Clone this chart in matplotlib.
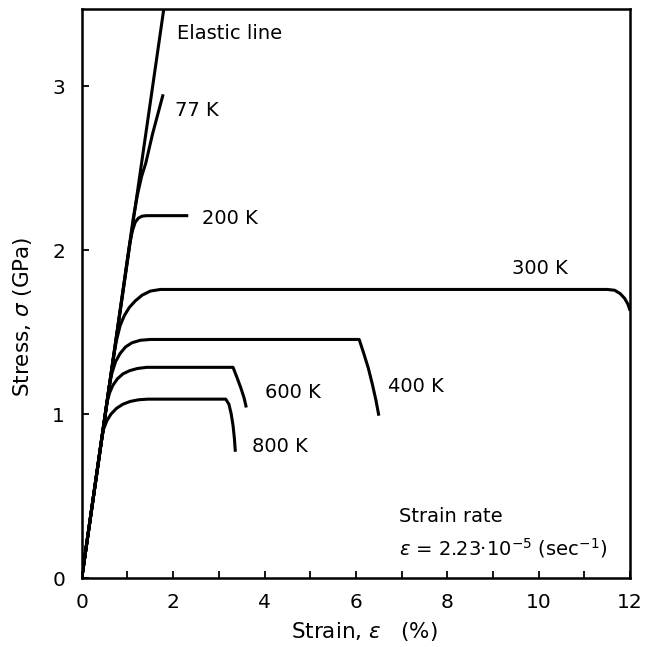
import matplotlib.pyplot as plt
from matplotlib.ticker import MultipleLocator

# ── Tensile curves (strain in %, stress in GPa) ──────────────────────────────

elastic_strain = [0.0, 1.81]
elastic_stress = [0.0, 3.50]

strain_77k = [0.0, 1.13, 1.22, 1.31, 1.40, 1.55, 1.78]
stress_77k = [0.0, 2.20, 2.34, 2.45, 2.53, 2.71, 2.95]

strain_200k = [0.0, 1.05, 1.11, 1.17, 1.24, 1.32, 1.42, 2.33]
stress_200k = [0.0, 2.04, 2.12, 2.17, 2.195, 2.207, 2.21, 2.21]

strain_300k = [0.0, 0.70, 0.76, 0.84, 0.93, 1.04, 1.17, 1.32, 1.50, 1.72,
               11.50, 11.66, 11.78, 11.88, 11.95, 12.00]
stress_300k = [0.0, 1.36, 1.45, 1.54, 1.60, 1.65, 1.69, 1.725, 1.75, 1.76,
               1.76, 1.755, 1.735, 1.705, 1.67, 1.63]

strain_400k = [0.0, 0.60, 0.66, 0.74, 0.84, 0.96, 1.10, 1.28, 1.50,
               6.07, 6.17, 6.27, 6.36, 6.44, 6.50]
stress_400k = [0.0, 1.17, 1.25, 1.32, 1.37, 1.41, 1.435, 1.45, 1.455,
               1.455, 1.37, 1.28, 1.18, 1.08, 0.99]

strain_600k = [0.0, 0.55, 0.61, 0.68, 0.78, 0.90, 1.05, 1.22, 1.42,
               3.31, 3.40, 3.48, 3.55, 3.60]
stress_600k = [0.0, 1.07, 1.13, 1.175, 1.215, 1.245, 1.265, 1.278, 1.285,
               1.285, 1.22, 1.16, 1.10, 1.04]

strain_800k = [0.0, 0.43, 0.48, 0.55, 0.64, 0.76, 0.90, 1.06, 1.24, 1.45,
               3.15, 3.22, 3.27, 3.31, 3.34, 3.36]
stress_800k = [0.0, 0.84, 0.91, 0.96, 1.00, 1.035, 1.06, 1.077, 1.087, 1.091,
               1.091, 1.06, 1.00, 0.93, 0.85, 0.77]

# curve labels: (text, strain, stress) of the left edge of each label
labels = [
    ("Elastic line", 2.09, 3.32),
    ("77 K", 2.04, 2.85),
    ("200 K", 2.64, 2.195),
    ("300 K", 9.41, 1.89),
    ("400 K", 6.70, 1.167),
    ("600 K", 4.00, 1.13),
    ("800 K", 3.73, 0.80),
]

plt.rcParams["font.family"] = ["DejaVu Sans"]
plt.rcParams["mathtext.fontset"] = "dejavusans"

fig = plt.figure(figsize=(6.49, 6.47), dpi=100)
ax = fig.add_axes([0.126, 0.1066, 0.845, 0.8794])

line_kw = dict(color="black", linewidth=2.2, solid_capstyle="butt",
               solid_joinstyle="round")
ax.plot(elastic_strain, elastic_stress, **line_kw)
for xs, ys in [(strain_77k, stress_77k), (strain_200k, stress_200k),
               (strain_300k, stress_300k), (strain_400k, stress_400k),
               (strain_600k, stress_600k), (strain_800k, stress_800k)]:
    ax.plot(xs, ys, **line_kw)

for text, x, y in labels:
    ax.text(x, y, text, fontsize=14, ha="left", va="center")

ax.text(6.95, 0.374, "Strain rate", fontsize=14, ha="left", va="center")
ax.text(6.95, 0.181, r"$\epsilon$ = 2.23·10$^{-5}$ (sec$^{-1}$)",
        fontsize=14, ha="left", va="center")

ax.set_xlim(0, 12)
ax.set_ylim(0, 3.47)
ax.xaxis.set_major_locator(MultipleLocator(2))
ax.xaxis.set_minor_locator(MultipleLocator(1))
ax.yaxis.set_major_locator(MultipleLocator(1))
ax.tick_params(which="both", direction="in", length=5, width=1.3,
               labelsize=14.5)
ax.tick_params(axis="x", which="major", pad=11)
ax.tick_params(axis="y", which="major", pad=12)

for spine in ax.spines.values():
    spine.set_linewidth(1.8)

ax.set_xlabel(r"Strain, $\epsilon$   (%)", fontsize=15.5)
ax.set_ylabel(r"Stress, $\sigma$ (GPa)", fontsize=15.5)
ax.xaxis.set_label_coords(0.516, -0.074)
ax.yaxis.set_label_coords(-0.088, 0.46)

fig.savefig("out.png", dpi=100)
